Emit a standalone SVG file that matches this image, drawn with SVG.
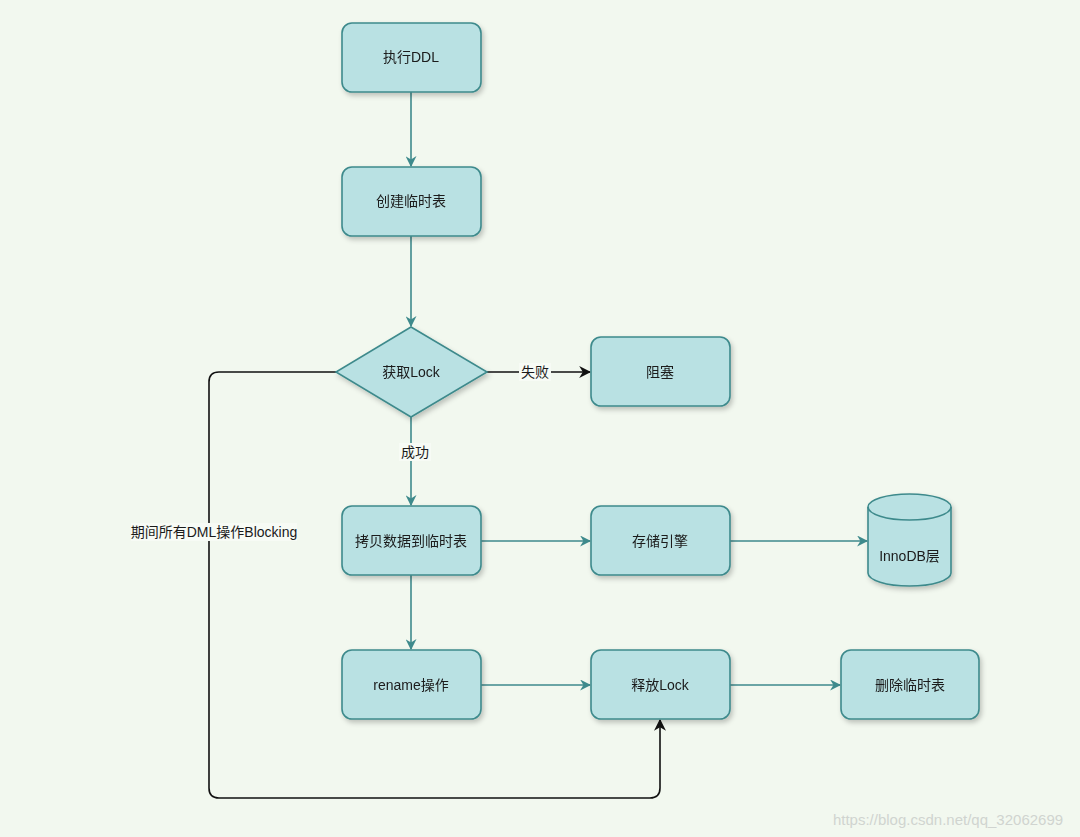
<svg xmlns="http://www.w3.org/2000/svg" width="1080" height="837" viewBox="0 0 1080 837">
<defs>
<style>
.node{fill:#b9e1e3;stroke:#3e8a8c;stroke-width:1.6}
.t{font-family:"Liberation Sans","Noto Sans CJK SC",sans-serif;font-size:14px;fill:#1a1a1a;text-anchor:middle;dominant-baseline:central}
.e{fill:none;stroke:#3e8a8c;stroke-width:1.6}
.k{fill:none;stroke:#111;stroke-width:1.6}
.lbl{fill:#f7fbf5}
</style>
<filter id="sh" x="-20%" y="-20%" width="150%" height="160%">
<feDropShadow dx="2" dy="3" stdDeviation="2.5" flood-color="#000" flood-opacity="0.22"/>
</filter>
<marker id="at" viewBox="0 0 10 10" refX="9" refY="5" markerWidth="11" markerHeight="11" orient="auto" markerUnits="userSpaceOnUse">
<path d="M0,0 L10,5 L0,10 L3,5 Z" fill="#3e8a8c"/>
</marker>
<marker id="ak" viewBox="0 0 10 10" refX="9" refY="5" markerWidth="12" markerHeight="12" orient="auto" markerUnits="userSpaceOnUse">
<path d="M0,0 L10,5 L0,10 L3,5 Z" fill="#111"/>
</marker>
</defs>
<rect width="1080" height="837" fill="#f2f8ef"/>

<g id="connectors">
<path class="e" d="M411,92 V166" marker-end="url(#at)"/>
<path class="e" d="M411,236 V326" marker-end="url(#at)"/>
<path class="k" d="M487,372 H590" marker-end="url(#ak)"/>
<path class="e" d="M411,417 V505" marker-end="url(#at)"/>
<path class="e" d="M481,541 H590" marker-end="url(#at)"/>
<path class="e" d="M730,541 H867" marker-end="url(#at)"/>
<path class="e" d="M411,575 V649" marker-end="url(#at)"/>
<path class="e" d="M481,685 H590" marker-end="url(#at)"/>
<path class="e" d="M730,685 H840" marker-end="url(#at)"/>
<path class="k" d="M336,372 H219 Q209,372 209,382 V788 Q209,798 219,798 H650 Q660,798 660,788 V720" marker-end="url(#ak)"/>
<rect class="lbl" x="519" y="363" width="32" height="18"/>
<text class="t" x="535" y="372">失败</text>
<rect class="lbl" x="399" y="443" width="32" height="18"/>
<text class="t" x="415" y="452">成功</text>
<rect class="lbl" x="131" y="523" width="166" height="18"/>
<text class="t" x="214" y="532">期间所有DML操作Blocking</text>
</g>

<g id="n1" filter="url(#sh)"><rect class="node" x="342" y="23" width="139" height="69" rx="10"/><text class="t" x="411" y="57">执行DDL</text></g>
<g id="n2" filter="url(#sh)"><rect class="node" x="342" y="167" width="139" height="69" rx="10"/><text class="t" x="411" y="201">创建临时表</text></g>
<g id="n3" filter="url(#sh)"><path class="node" d="M411,327 L487,372 L411,417 L336,372 Z"/><text class="t" x="411" y="372">获取Lock</text></g>
<g id="n4" filter="url(#sh)"><rect class="node" x="591" y="337" width="139" height="69" rx="10"/><text class="t" x="660" y="372">阻塞</text></g>
<g id="n5" filter="url(#sh)"><rect class="node" x="342" y="506" width="139" height="69" rx="10"/><text class="t" x="411" y="541">拷贝数据到临时表</text></g>
<g id="n6" filter="url(#sh)"><rect class="node" x="591" y="506" width="139" height="69" rx="10"/><text class="t" x="660" y="541">存储引擎</text></g>
<g id="n7" filter="url(#sh)">
<path class="node" d="M868,507 A41.5,13 0 0 1 951,507 V573 A41.5,13 0 0 1 868,573 Z"/>
<path class="node" style="fill:none" d="M868,507 A41.5,13 0 0 0 951,507"/>
<text class="t" x="909.5" y="556">InnoDB层</text>
</g>
<g id="n8" filter="url(#sh)"><rect class="node" x="342" y="650" width="139" height="69" rx="10"/><text class="t" x="411" y="685">rename操作</text></g>
<g id="n9" filter="url(#sh)"><rect class="node" x="591" y="650" width="139" height="69" rx="10"/><text class="t" x="660" y="685">释放Lock</text></g>
<g id="n10" filter="url(#sh)"><rect class="node" x="841" y="650" width="138" height="69" rx="10"/><text class="t" x="910" y="685">删除临时表</text></g>

<text class="t" x="948" y="819" style="fill:#d0d4d0;font-size:15px">https://blog.csdn.net/qq_32062699</text>
</svg>
